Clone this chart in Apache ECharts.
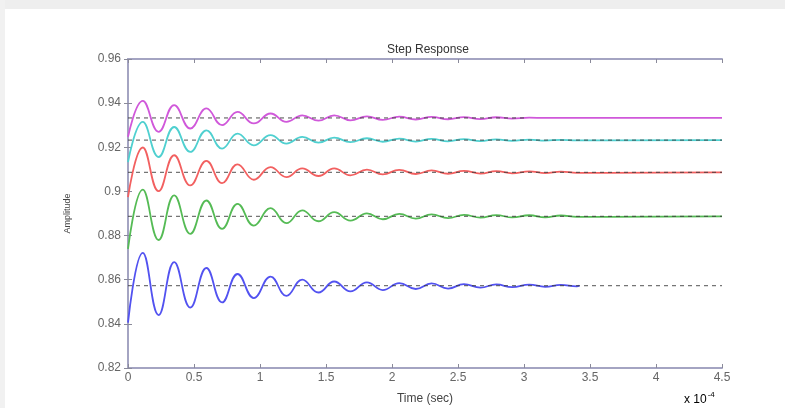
<!DOCTYPE html>
<html><head><meta charset="utf-8">
<script src="https://cdn.jsdelivr.net/npm/echarts@6/dist/echarts.min.js"></script>
<style>html,body{margin:0;padding:0;background:#fff}#c{width:785px;height:408px}</style>
</head><body><div id="c"></div>
<script>
// x axis tick labels (units of 1e-4 s) and y ticks
const xTicks = [0, 0.5, 1, 1.5, 2, 2.5, 3, 3.5, 4, 4.5];
const yTicks = [0.82, 0.84, 0.86, 0.88, 0.9, 0.92, 0.94, 0.96];
// times of the read-off peaks / troughs (x 1e-4 s)
const extremaTimes = [0.112,0.232,0.35,0.472,0.594,0.713,0.83,0.953,1.08,1.2,1.32,1.443,1.562,1.685,1.81,1.93,2.055,2.18,2.3,2.425,2.545,2.67,2.79,2.91,3.04,3.16,3.28,3.40];
const seriesNames = ['sys1','sys2','sys3','sys4','sys5'];
const startValues = [0.8406, 0.8740, 0.8974, 0.9133, 0.9247];
const blueExtrema = [0.8722,0.8440,0.8680,0.8474,0.8653,0.8497,0.8626,0.8517,0.8614,0.8527,0.8600,0.8542,0.8592,0.8547,0.8588,0.8553,0.8585,0.8558,0.8583,0.8560,0.8580,0.8564,0.8579,0.8566,0.8578,0.8568,0.8577,0.8570];
const greenExtrema = [0.9008,0.8780,0.8982,0.8808,0.8959,0.8830,0.8944,0.8845,0.8924,0.8856,0.8914,0.8865,0.8906,0.8868,0.8901,0.8874,0.8898,0.8877,0.8896,0.8879,0.8894,0.8881,0.8893,0.8882,0.8892,0.8883,0.8891,0.8885];
const redExtrema = [0.9199,0.9001,0.9164,0.9027,0.9138,0.9038,0.9123,0.9053,0.9110,0.9065,0.9104,0.9070,0.9104,0.9073,0.9099,0.9077,0.9098,0.9079,0.9095,0.9080,0.9093,0.9081,0.9092,0.9082,0.9091,0.9083,0.9090,0.9084];
const cyanExtrema = [0.9315,0.9156,0.9292,0.9179,0.9277,0.9194,0.9262,0.9209,0.9255,0.9217,0.9247,0.9221,0.9244,0.9223,0.9241,0.9225,0.9239,0.9226,0.9238,0.9227,0.9237,0.9228,0.9236,0.9229,0.9235,0.9230,0.9234,0.9231];
const magentaExtrema = [0.9410,0.9270,0.9391,0.9285,0.9376,0.9300,0.9360,0.9308,0.9353,0.9315,0.9345,0.9321,0.9345,0.9322,0.9340,0.9324,0.9339,0.9326,0.9338,0.9327,0.9337,0.9328,0.9336,0.9330,0.9334,0.9333,0.9333,0.9333];
const steadyValues = [0.8573, 0.8887, 0.9086, 0.9232, 0.9333];
const responseEnd = [3.42, 4.5, 4.5, 4.5, 4.5];
const steadyEnd = [4.5, 4.5, 4.5, 4.5, 3.02];
const colors = ['#5252f0', '#55bb55', '#f26060', '#4fd0d0', '#d058da'];

const allExtrema = [blueExtrema, greenExtrema, redExtrema, cyanExtrema, magentaExtrema];
const series = [];
allExtrema.forEach((ext, i) => {
  const data = [[0, startValues[i]]];
  extremaTimes.forEach((t, k) => data.push([t, ext[k]]));
  data.push([responseEnd[i], steadyValues[i]]);
  series.push({
    name: seriesNames[i], type: 'line', data, smooth: 0.45, showSymbol: false,
    lineStyle: { color: colors[i], width: 1.8 }, z: 2
  });
});
steadyValues.forEach((v, i) => {
  series.push({
    type: 'line', data: [[0, v], [steadyEnd[i], v]], showSymbol: false,
    lineStyle: { color: '#3a3a3a', width: 1.3, type: [4, 4], opacity: 0.7 }, z: 3
  });
});

const axisColor = '#a4a4c2';
const labelStyle = { color: '#666', fontSize: 12, fontFamily: 'Liberation Sans' };
const chart = echarts.init(document.getElementById('c'));
chart.setOption({
  backgroundColor: '#ffffff',
  animation: false,
  title: { text: 'Step Response', left: 423, top: 39, textAlign: 'center',
    textStyle: { fontSize: 12, fontWeight: 'normal', color: '#333', fontFamily: 'Liberation Sans' } },
  grid: { left: 128, right: 63, top: 59, bottom: 40, containLabel: false, outerBoundsMode: 'none' },
  xAxis: [{
    type: 'value', min: 0, max: 4.5, interval: 0.5,
    name: 'Time (sec)', nameLocation: 'middle', nameGap: 25,
    nameTextStyle: { fontSize: 12, color: '#444', fontFamily: 'Liberation Sans' },
    axisLine: { show: true, lineStyle: { color: axisColor, width: 2 } },
    axisTick: { inside: true, length: 4, lineStyle: { color: '#8a8a9a' } },
    axisLabel: Object.assign({ margin: 4, formatter: v => String(+v.toFixed(2)) }, labelStyle),
    splitLine: { show: false }
  }, {
    type: 'value', min: 0, max: 4.5, interval: 0.5, position: 'top',
    axisLine: { show: true, lineStyle: { color: axisColor, width: 2 } },
    axisTick: { inside: true, length: 4, lineStyle: { color: '#8a8a9a' } },
    axisLabel: { show: false }, splitLine: { show: false }
  }],
  yAxis: [{
    type: 'value', min: 0.82, max: 0.96, interval: 0.02,
    name: 'Amplitude', nameLocation: 'middle', nameGap: 56, nameRotate: 90,
    nameTextStyle: { fontSize: 9, color: '#444', fontFamily: 'Liberation Sans' },
    axisLine: { show: true, lineStyle: { color: axisColor, width: 2 } },
    axisTick: { inside: true, length: 4, lineStyle: { color: '#8a8a9a' } },
    axisLabel: Object.assign({ margin: 7, formatter: v => String(+v.toFixed(2)) }, labelStyle),
    splitLine: { show: false }
  }, {
    type: 'value', min: 0.82, max: 0.96, interval: 0.02, position: 'right',
    axisLine: { show: true, lineStyle: { color: axisColor, width: 2 } },
    axisTick: { inside: true, length: 4, lineStyle: { color: '#8a8a9a' } },
    axisLabel: { show: false }, splitLine: { show: false }
  }],
  graphic: [
    { type: 'rect', left: 0, top: 0, shape: { width: 785, height: 9 }, style: { fill: '#eeeeee' }, silent: true },
    { type: 'rect', left: 0, top: 0, shape: { width: 5, height: 408 }, style: { fill: '#f1f1f1' }, silent: true },
    { type: 'text', left: 684, top: 391, style: {
        text: '{a|x 10}{b|-4}', rich: {
          a: { fontSize: 12, color: '#555', fontFamily: 'Liberation Sans' },
          b: { fontSize: 8, color: '#555', fontFamily: 'Liberation Sans', verticalAlign: 'top', padding: [0, 0, 9, 1] }
        } } }
  ],
  series
});
</script></body></html>
